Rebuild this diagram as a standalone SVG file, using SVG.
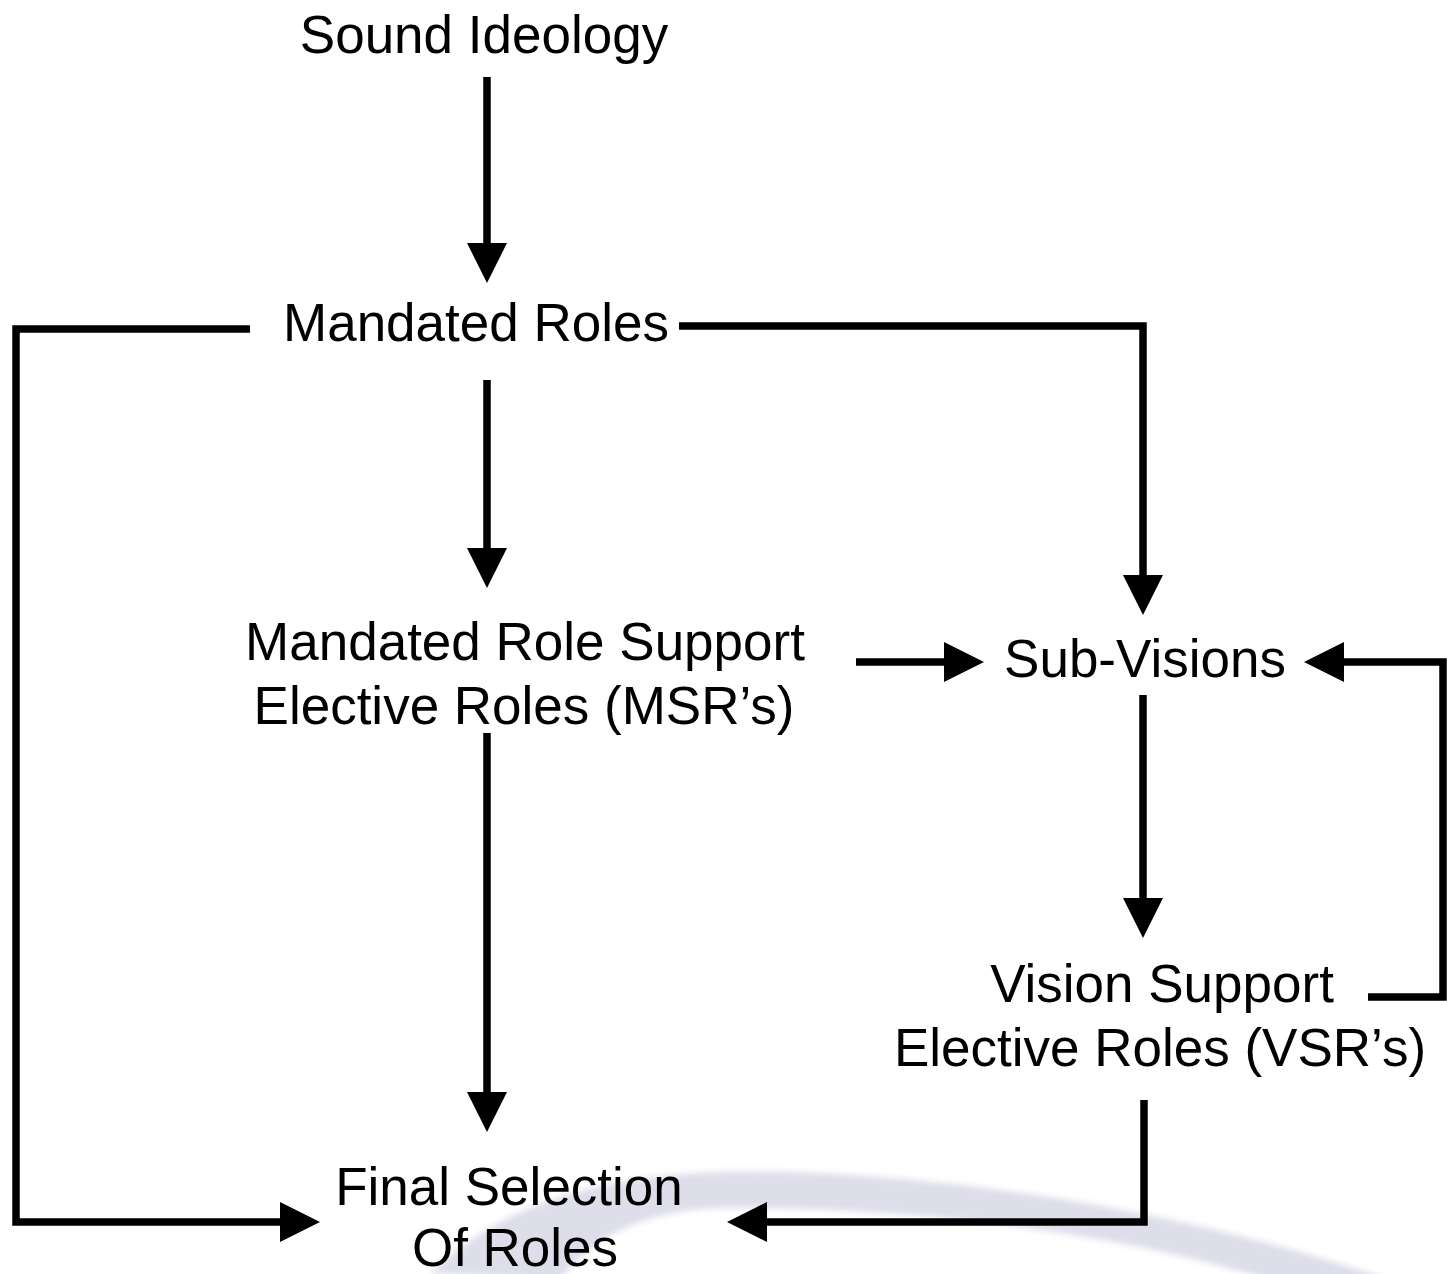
<svg xmlns="http://www.w3.org/2000/svg" width="1447" height="1274" viewBox="0 0 1447 1274">
  <defs>
    <style>
      .lbl { font-family: "Liberation Sans", Arial, sans-serif; font-size: 53px; fill: #000; text-anchor: middle; }
      .conn { fill: none; stroke: #000; stroke-width: 7.5; stroke-linejoin: miter; stroke-linecap: butt; }
    </style>
    <marker id="head" markerUnits="userSpaceOnUse" markerWidth="40" markerHeight="40" refX="0" refY="20" orient="auto" viewBox="0 0 40 40">
      <path d="M0,0 L40,20 L0,40 Z" fill="#000"/>
    </marker>
    <filter id="soft" x="-5%" y="-20%" width="110%" height="140%">
      <feGaussianBlur stdDeviation="3"/>
    </filter>
  </defs>
  <rect width="1447" height="1274" fill="#ffffff"/>
  <g id="background-arc">
    <path d="M 430 1274 C 520 1185, 650 1168, 790 1172 C 980 1178, 1200 1215, 1390 1280 L 1270 1280 C 1100 1228, 900 1207, 720 1208 C 640 1211, 590 1240, 560 1280 Z" fill="#dedeeb" filter="url(#soft)"/>
  </g>
  <g id="connectors">
    <path class="conn" d="M487,77 V243" marker-end="url(#head)"/>
    <path class="conn" d="M487,380 V548" marker-end="url(#head)"/>
    <path class="conn" d="M679,326 H1143 V575" marker-end="url(#head)"/>
    <path class="conn" d="M250,329 H16 V1222 H280" marker-end="url(#head)"/>
    <path class="conn" d="M856,662 H944" marker-end="url(#head)"/>
    <path class="conn" d="M487,733 V1092" marker-end="url(#head)"/>
    <path class="conn" d="M1143,695 V898" marker-end="url(#head)"/>
    <path class="conn" d="M1368,997 H1443 V662 H1344" marker-end="url(#head)"/>
    <path class="conn" d="M1144,1100 V1222 H767" marker-end="url(#head)"/>
  </g>
  <g id="node-sound-ideology">
    <text class="lbl" x="484" y="53">Sound Ideology</text>
  </g>
  <g id="node-mandated-roles">
    <text class="lbl" x="476" y="341">Mandated Roles</text>
  </g>
  <g id="node-msr">
    <text class="lbl" x="525" y="660">Mandated Role Support</text>
    <text class="lbl" x="524" y="724">Elective Roles (MSR’s)</text>
  </g>
  <g id="node-sub-visions">
    <text class="lbl" x="1145" y="677">Sub-Visions</text>
  </g>
  <g id="node-vsr">
    <text class="lbl" x="1162" y="1002">Vision Support</text>
    <text class="lbl" x="1160" y="1066">Elective Roles (VSR’s)</text>
  </g>
  <g id="node-final-selection">
    <text class="lbl" x="509" y="1205">Final Selection</text>
    <text class="lbl" x="515" y="1266">Of Roles</text>
  </g>
</svg>
